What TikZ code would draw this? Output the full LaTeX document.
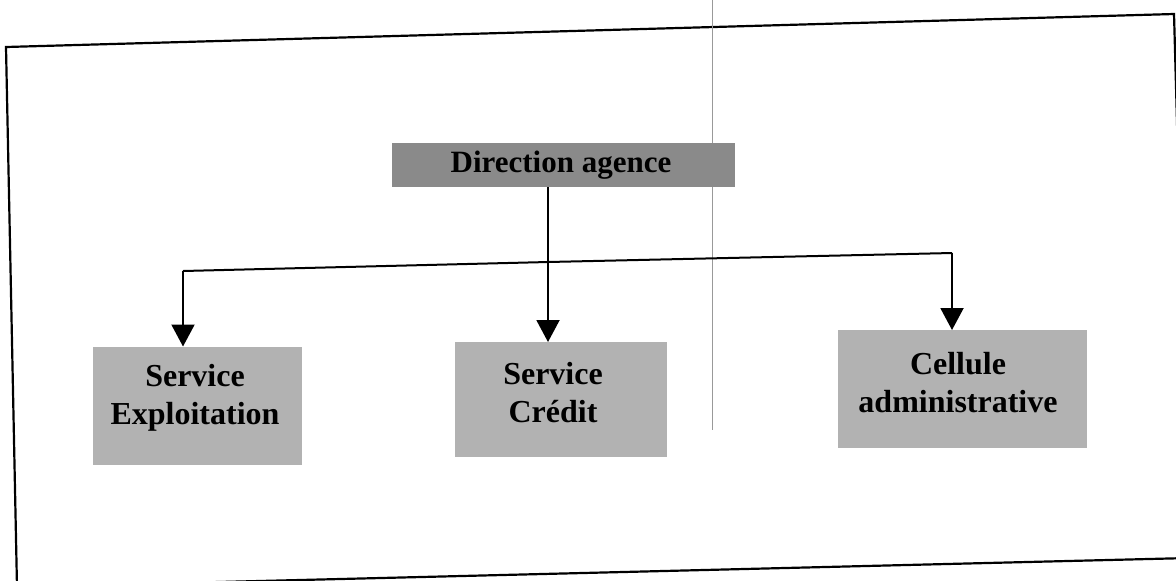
\documentclass[tikz,border=0pt]{standalone}
\usepackage{fontspec}
\setmainfont{Liberation Serif}
\usetikzlibrary{arrows.meta}
\definecolor{headgray}{RGB}{138,138,138}
\definecolor{unitgray}{RGB}{178,178,178}
\begin{document}
\begin{tikzpicture}[x=0.5pt, y=-0.5pt, inner sep=0pt, outer sep=0pt,
  unit/.style={fill=unitgray},
  unittext/.style={align=center, font=\fontsize{16}{19}\selectfont\bfseries},
  link/.style={draw=black, line width=1pt, -{Triangle[length=11pt, width=11.5pt]}}]
\useasboundingbox (0,0) rectangle (1176,580);
\clip (0,0) rectangle (1176,580);
  % scanned frame, slightly turned
  \path[draw=black, line width=1.1pt] (6,47) -- (1174,14) -- (1189,558) -- (17,587) -- cycle;
  \path[draw=black!40, line width=0.4pt] (712,0) -- (712,430);
  \node[unit, fill=headgray, minimum width=171.5pt, minimum height=22pt] (dir) at (563,165) {};
  \node[unittext, font=\fontsize{15.5}{19}\selectfont\bfseries] (dirT) at (561,165) {Direction agence};
  \node[unit, minimum width=104.5pt, minimum height=59pt] (expl) at (197.5,405.5) {};
  \node[unittext] (explT) at (195,398) {Service\\Exploitation};
  \node[unit, minimum width=106pt, minimum height=57.5pt] (cred) at (561,399.5) {};
  \node[unittext] (credT) at (553,393) {Service\\Crédit};
  \node[unit, minimum width=124.5pt, minimum height=59pt] (cell) at (962.5,389) {};
  \node[unittext] (cellT) at (958,383) {Cellule\\administrative};
  \coordinate (busL) at (183,271);
  \coordinate (busM) at (548,262);
  \coordinate (busR) at (952,253);
  \draw[line width=1pt] (busL) -- (busM) -- (busR);
  \draw[link] (busM |- dir.south) -- (busM |- cred.north);
  \draw[link] (busL) -- (busL |- expl.north);
  \draw[link] (busR) -- (busR |- cell.north);
\end{tikzpicture}
\end{document}
